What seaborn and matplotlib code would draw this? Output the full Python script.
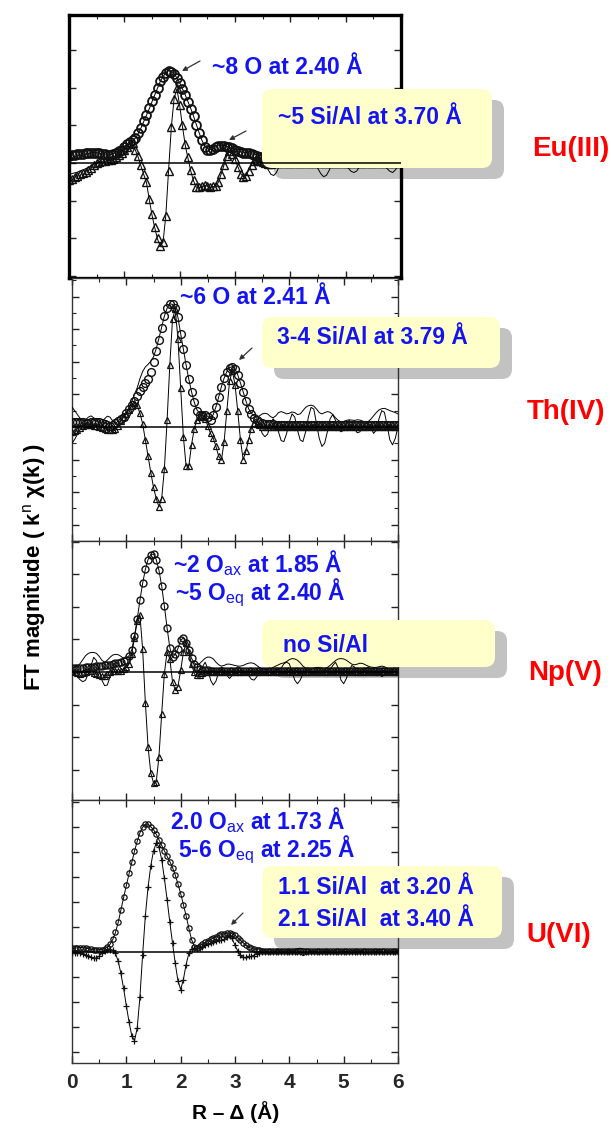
import numpy as np
import pandas as pd
import matplotlib
matplotlib.use("Agg")
import matplotlib.pyplot as plt
from matplotlib.patches import FancyBboxPatch
from matplotlib.transforms import IdentityTransform
from matplotlib.ticker import MultipleLocator
import seaborn as sns

# ---------------------------------------------------------------- data
# R - Delta grid (Angstrom), 0.05 step
R = np.round(np.arange(0, 121) * 0.05, 2)

# Eu(III): |FT| and Im(FT), experiment (lines) and fit (symbols)
eu_mag_fit = [
    0.20, 0.21, 0.22, 0.23, 0.24, 0.25, 0.26, 0.26, 0.27, 0.28, 0.28, 0.27, 0.25, 0.23, 0.21, 0.22, 0.25, 0.28, 0.31, 0.36,
    0.43, 0.50, 0.56, 0.61, 0.67, 0.79, 0.94, 1.12, 1.28, 1.45, 1.64, 1.82, 2.00, 2.18, 2.29, 2.38, 2.44, 2.43, 2.37, 2.25,
    2.12, 1.96, 1.80, 1.62, 1.44, 1.24, 1.02, 0.80, 0.60, 0.44, 0.36, 0.35, 0.38, 0.42, 0.45, 0.46, 0.46, 0.44, 0.42, 0.39,
    0.35, 0.31, 0.29, 0.28, 0.27, 0.26, 0.24, 0.22, 0.20, 0.17, 0.14, 0.11, 0.08, 0.06, 0.05, 0.04, 0.04, 0.03, 0.03, 0.03,
    0.03, 0.03, 0.03, 0.03, 0.03, 0.03, 0.03, 0.03, 0.03, 0.03, 0.03, 0.03, 0.03, 0.03, 0.03, 0.03, 0.03, 0.03, 0.03, 0.03,
    0.03, 0.03, 0.03, 0.03, 0.03, 0.02, 0.02, 0.02, 0.02, 0.02, 0.02, 0.02, 0.02, 0.02, 0.02, 0.02, 0.02, 0.02, 0.02, 0.02,
    0.02]
eu_im_fit = [
    -0.45, -0.42, -0.38, -0.34, -0.30, -0.26, -0.23, -0.18, -0.12, -0.06, -0.01, 0.03, 0.05, 0.06, 0.07, 0.08, 0.11, 0.16, 0.21, 0.27,
    0.35, 0.43, 0.50, 0.52, 0.35, 0.18, -0.06, -0.28, -0.50, -0.95, -1.36, -1.70, -2.00, -2.20, -2.10, -1.40, -0.20, 0.95, 1.70, 1.98,
    1.55, 1.00, 0.50, 0.15, -0.19, -0.45, -0.63, -0.64, -0.61, -0.59, -0.60, -0.63, -0.62, -0.60, -0.50, -0.28, -0.05, 0.20, 0.32, 0.25,
    0.10, -0.10, -0.28, -0.37, -0.33, -0.20, -0.05, 0.06, 0.08, 0.06, 0.03, 0.00, -0.02, -0.02, -0.01, 0.00, 0.00, 0.00, 0.00, 0.00,
    0.00, 0.00, 0.00, 0.00, 0.00, 0.00, 0.00, 0.00, 0.00, 0.00, 0.00, 0.00, 0.00, 0.00, 0.00, 0.00, 0.00, 0.00, 0.00, 0.00,
    0.00, 0.00, 0.00, 0.00, 0.00, 0.00, 0.00, 0.00, 0.00, 0.00, 0.00, 0.00, 0.00, 0.00, 0.00, 0.00, 0.00, 0.00, 0.00, 0.00,
    0.00]
eu_mag_exp = [
    0.10, 0.13, 0.16, 0.19, 0.21, 0.22, 0.23, 0.25, 0.27, 0.28, 0.28, 0.26, 0.24, 0.22, 0.21, 0.22, 0.25, 0.29, 0.32, 0.37,
    0.44, 0.51, 0.57, 0.61, 0.66, 0.78, 0.93, 1.10, 1.27, 1.44, 1.63, 1.81, 1.99, 2.17, 2.30, 2.39, 2.45, 2.44, 2.37, 2.26,
    2.13, 1.97, 1.81, 1.63, 1.45, 1.25, 1.03, 0.81, 0.61, 0.46, 0.38, 0.36, 0.39, 0.43, 0.46, 0.47, 0.47, 0.45, 0.43, 0.40,
    0.36, 0.32, 0.30, 0.29, 0.28, 0.27, 0.25, 0.23, 0.22, 0.21, 0.20, 0.22, 0.24, 0.31, 0.33, 0.28, 0.22, 0.20, 0.21, 0.20,
    0.16, 0.10, 0.07, 0.10, 0.15, 0.18, 0.19, 0.17, 0.15, 0.18, 0.24, 0.30, 0.36, 0.34, 0.27, 0.20, 0.17, 0.16, 0.15, 0.14,
    0.16, 0.20, 0.23, 0.25, 0.23, 0.18, 0.14, 0.14, 0.15, 0.12, 0.08, 0.05, 0.05, 0.08, 0.13, 0.18, 0.22, 0.25, 0.21, 0.14,
    0.08]
eu_im_exp = [
    -0.30, -0.28, -0.26, -0.24, -0.21, -0.18, -0.15, -0.11, -0.07, -0.03, 0.01, 0.04, 0.05, 0.05, 0.06, 0.08, 0.12, 0.17, 0.22, 0.28,
    0.36, 0.44, 0.51, 0.52, 0.34, 0.16, -0.08, -0.30, -0.52, -0.96, -1.38, -1.72, -2.02, -2.20, -2.10, -1.38, -0.18, 0.97, 1.72, 1.97,
    1.53, 0.98, 0.48, 0.13, -0.21, -0.47, -0.64, -0.65, -0.62, -0.60, -0.61, -0.64, -0.63, -0.61, -0.51, -0.29, -0.06, 0.19, 0.33, 0.26,
    0.11, -0.09, -0.27, -0.36, -0.32, -0.19, -0.04, 0.08, 0.12, 0.10, 0.05, -0.05, -0.18, -0.30, -0.33, -0.25, -0.08, 0.10, 0.20, 0.18,
    0.08, -0.02, -0.06, -0.02, 0.08, 0.15, 0.18, 0.14, 0.06, -0.04, -0.15, -0.28, -0.36, -0.33, -0.20, -0.03, 0.10, 0.16, 0.14, 0.06,
    -0.04, -0.14, -0.22, -0.25, -0.21, -0.10, 0.04, 0.12, 0.14, 0.10, 0.04, -0.02, -0.04, -0.02, -0.06, -0.15, -0.22, -0.25, -0.18, -0.06,
    0.04]

# Th(IV)
th_mag_fit = [
    0.15, 0.16, 0.16, 0.15, 0.14, 0.13, 0.13, 0.14, 0.15, 0.15, 0.14, 0.12, 0.09, 0.06, 0.04, 0.06, 0.11, 0.17, 0.24, 0.31,
    0.42, 0.54, 0.66, 0.80, 0.96, 1.10, 1.22, 1.34, 1.48, 1.70, 1.98, 2.32, 2.68, 3.05, 3.40, 3.64, 3.78, 3.76, 3.64, 3.36,
    2.86, 2.38, 1.90, 1.46, 1.08, 0.76, 0.50, 0.38, 0.37, 0.36, 0.30, 0.22, 0.38, 0.62, 0.92, 1.24, 1.50, 1.70, 1.82, 1.85,
    1.78, 1.60, 1.35, 1.08, 0.80, 0.56, 0.40, 0.28, 0.20, 0.15, 0.12, 0.10, 0.09, 0.08, 0.08, 0.07, 0.07, 0.07, 0.06, 0.06,
    0.06, 0.06, 0.06, 0.06, 0.06, 0.06, 0.06, 0.06, 0.05, 0.05, 0.05, 0.05, 0.05, 0.05, 0.05, 0.05, 0.05, 0.05, 0.05, 0.05,
    0.05, 0.05, 0.05, 0.05, 0.05, 0.05, 0.05, 0.05, 0.05, 0.05, 0.05, 0.05, 0.05, 0.05, 0.05, 0.05, 0.05, 0.05, 0.05, 0.05,
    0.05]
th_im_fit = [
    -0.15, -0.12, -0.08, -0.03, 0.02, 0.05, 0.06, 0.05, 0.04, 0.02, 0.00, -0.03, -0.06, -0.08, -0.09, -0.09, -0.06, 0.04, 0.18, 0.30,
    0.41, 0.53, 0.65, 0.72, 0.66, 0.42, 0.10, -0.40, -0.90, -1.40, -1.85, -2.20, -2.45, -2.20, -1.30, 0.20, 1.90, 3.30, 3.62, 2.70,
    1.20, -0.30, -1.20, -1.20, -0.55, -0.05, 0.22, 0.30, 0.32, 0.25, 0.02, -0.20, -0.35, -0.60, -0.90, -1.02, -0.45, 0.50, 1.40, 1.72,
    1.30, 0.50, -0.40, -1.00, -0.75, -0.40, -0.05, 0.12, 0.10, 0.05, 0.00, 0.00, -0.01, -0.01, 0.00, 0.00, 0.00, 0.00, 0.00, 0.00,
    0.00, 0.00, 0.00, 0.00, 0.00, 0.00, 0.00, 0.00, 0.00, 0.00, 0.00, 0.00, 0.00, 0.00, 0.00, 0.00, 0.00, 0.00, 0.00, 0.00,
    0.00, 0.00, 0.00, 0.00, 0.00, 0.00, 0.00, 0.00, 0.00, 0.00, 0.00, 0.00, 0.00, 0.00, 0.00, 0.00, 0.00, 0.00, 0.00, 0.00,
    0.00]
th_mag_exp = [
    0.61, 0.50, 0.38, 0.26, 0.18, 0.22, 0.30, 0.34, 0.28, 0.18, 0.12, 0.15, 0.25, 0.33, 0.30, 0.18, 0.10, 0.18, 0.28, 0.36,
    0.46, 0.60, 0.78, 1.00, 1.20, 1.48, 1.70, 1.84, 1.92, 2.02, 2.15, 2.40, 2.72, 3.06, 3.40, 3.64, 3.78, 3.76, 3.64, 3.36,
    2.86, 2.38, 1.90, 1.46, 1.08, 0.76, 0.52, 0.42, 0.42, 0.40, 0.32, 0.24, 0.38, 0.62, 0.92, 1.24, 1.50, 1.70, 1.82, 1.85,
    1.78, 1.60, 1.35, 1.08, 0.80, 0.56, 0.42, 0.34, 0.30, 0.34, 0.40, 0.42, 0.40, 0.32, 0.28, 0.34, 0.44, 0.47, 0.44, 0.40,
    0.42, 0.46, 0.44, 0.38, 0.40, 0.50, 0.60, 0.65, 0.67, 0.64, 0.55, 0.44, 0.40, 0.44, 0.47, 0.45, 0.38, 0.28, 0.20, 0.16,
    0.17, 0.20, 0.22, 0.21, 0.20, 0.22, 0.21, 0.18, 0.14, 0.16, 0.24, 0.34, 0.44, 0.52, 0.56, 0.57, 0.54, 0.50, 0.47, 0.44,
    0.40]
th_im_exp = [
    -0.50, -0.38, -0.22, -0.08, 0.05, 0.12, 0.10, 0.02, -0.06, -0.10, -0.06, 0.04, 0.12, 0.10, 0.00, -0.12, -0.10, 0.05, 0.20, 0.30,
    0.41, 0.53, 0.65, 0.72, 0.66, 0.42, 0.10, -0.40, -0.90, -1.40, -1.85, -2.20, -2.45, -2.20, -1.30, 0.20, 1.90, 3.30, 3.62, 2.70,
    1.20, -0.30, -1.20, -1.20, -0.55, -0.05, 0.22, 0.32, 0.36, 0.28, 0.02, -0.20, -0.35, -0.60, -0.90, -1.02, -0.45, 0.50, 1.40, 1.72,
    1.30, 0.50, -0.40, -1.00, -0.75, -0.40, -0.05, 0.20, 0.25, 0.05, -0.20, -0.30, -0.22, 0.05, 0.25, 0.15, -0.15, -0.42, -0.45, -0.20,
    0.15, 0.40, 0.30, -0.10, -0.40, -0.45, -0.15, 0.30, 0.60, 0.55, 0.10, -0.35, -0.60, -0.50, -0.15, 0.25, 0.38, 0.20, -0.05, -0.15,
    -0.10, 0.10, 0.20, 0.12, -0.05, -0.18, -0.15, 0.02, 0.12, 0.10, 0.00, -0.20, -0.10, 0.25, 0.50, 0.45, 0.05, -0.40, -0.55, -0.35,
    0.00]

# Np(V)
np_mag_fit = [
    0.13, 0.13, 0.12, 0.12, 0.13, 0.14, 0.14, 0.15, 0.16, 0.17, 0.18, 0.19, 0.20, 0.21, 0.22, 0.24, 0.26, 0.28, 0.31, 0.34,
    0.38, 0.48, 0.68, 1.10, 1.62, 2.20, 2.72, 3.15, 3.45, 3.60, 3.62, 3.45, 3.12, 2.65, 2.02, 1.35, 0.75, 0.45, 0.55, 0.72,
    0.98, 1.04, 0.90, 0.66, 0.42, 0.25, 0.14, 0.08, 0.06, 0.05, 0.05, 0.04, 0.04, 0.04, 0.04, 0.04, 0.04, 0.04, 0.04, 0.04,
    0.04, 0.04, 0.04, 0.04, 0.04, 0.04, 0.04, 0.04, 0.04, 0.04, 0.04, 0.04, 0.04, 0.04, 0.04, 0.04, 0.04, 0.04, 0.04, 0.04,
    0.04, 0.04, 0.04, 0.04, 0.04, 0.04, 0.04, 0.04, 0.04, 0.04, 0.03, 0.03, 0.03, 0.03, 0.03, 0.03, 0.03, 0.03, 0.03, 0.03,
    0.03, 0.03, 0.03, 0.03, 0.03, 0.03, 0.03, 0.03, 0.03, 0.03, 0.03, 0.03, 0.03, 0.03, 0.03, 0.03, 0.03, 0.03, 0.03, 0.03,
    0.03]
np_im_fit = [
    0.02, 0.00, -0.03, -0.05, -0.03, 0.00, 0.03, 0.02, -0.02, -0.06, -0.10, -0.12, -0.11, -0.06, 0.00, 0.03, 0.04, 0.03, 0.04, 0.08,
    0.14, 0.24, 0.55, 1.05, 1.55, 1.75, 0.70, -0.94, -2.30, -3.10, -3.40, -3.38, -2.60, -1.30, -0.05, 0.62, 0.40, -0.30, -0.55, -0.45,
    0.05, 0.60, 0.88, 0.60, 0.25, 0.00, -0.08, -0.08, -0.04, 0.00, 0.00, 0.00, 0.00, 0.00, 0.00, 0.00, 0.00, 0.00, 0.00, 0.00,
    0.00, 0.00, 0.00, 0.00, 0.00, 0.00, 0.00, 0.00, 0.00, 0.00, 0.00, 0.00, 0.00, 0.00, 0.00, 0.00, 0.00, 0.00, 0.00, 0.00,
    0.00, 0.00, 0.00, 0.00, 0.00, 0.00, 0.00, 0.00, 0.00, 0.00, 0.00, 0.00, 0.00, 0.00, 0.00, 0.00, 0.00, 0.00, 0.00, 0.00,
    0.00, 0.00, 0.00, 0.00, 0.00, 0.00, 0.00, 0.00, 0.00, 0.00, 0.00, 0.00, 0.00, 0.00, 0.00, 0.00, 0.00, 0.00, 0.00, 0.00,
    0.00]
np_mag_exp = [
    0.12, 0.14, 0.18, 0.26, 0.38, 0.50, 0.57, 0.60, 0.60, 0.57, 0.48, 0.36, 0.30, 0.36, 0.45, 0.52, 0.54, 0.53, 0.48, 0.42,
    0.42, 0.50, 0.68, 1.10, 1.62, 2.20, 2.72, 3.15, 3.45, 3.60, 3.62, 3.45, 3.12, 2.65, 2.02, 1.35, 0.75, 0.45, 0.55, 0.72,
    0.98, 1.04, 0.90, 0.66, 0.42, 0.28, 0.22, 0.26, 0.34, 0.42, 0.46, 0.45, 0.40, 0.30, 0.22, 0.18, 0.20, 0.24, 0.24, 0.22,
    0.20, 0.18, 0.18, 0.20, 0.24, 0.27, 0.28, 0.26, 0.20, 0.14, 0.10, 0.08, 0.08, 0.10, 0.14, 0.18, 0.22, 0.26, 0.28, 0.32,
    0.38, 0.41, 0.40, 0.36, 0.28, 0.18, 0.12, 0.10, 0.10, 0.12, 0.14, 0.14, 0.12, 0.10, 0.14, 0.20, 0.28, 0.35, 0.40, 0.41,
    0.40, 0.36, 0.30, 0.24, 0.22, 0.24, 0.27, 0.26, 0.22, 0.18, 0.15, 0.14, 0.14, 0.16, 0.18, 0.16, 0.12, 0.08, 0.06, 0.05,
    0.05]
np_im_exp = [
    0.05, -0.05, -0.15, -0.24, -0.30, -0.25, -0.05, 0.20, 0.45, 0.35, 0.05, -0.25, -0.42, -0.40, -0.15, 0.15, 0.30, 0.25, 0.10, 0.05,
    0.14, 0.24, 0.55, 1.05, 1.55, 1.75, 0.70, -0.94, -2.30, -3.10, -3.40, -3.38, -2.60, -1.30, -0.05, 0.62, 0.40, -0.30, -0.55, -0.45,
    0.05, 0.60, 0.88, 0.60, 0.25, -0.05, -0.15, -0.05, 0.15, 0.30, 0.10, -0.25, -0.40, -0.28, 0.00, 0.15, 0.10, -0.10, -0.20, -0.10,
    0.08, 0.16, 0.12, 0.02, -0.10, -0.10, -0.22, -0.25, -0.15, 0.02, 0.10, 0.08, 0.02, -0.03, -0.02, 0.05, 0.10, 0.12, 0.25, 0.30,
    0.25, 0.00, -0.25, -0.36, -0.25, -0.05, 0.05, 0.06, 0.02, -0.04, -0.06, -0.03, 0.03, 0.06, 0.05, 0.08, 0.20, 0.30, 0.12, -0.25,
    -0.36, -0.20, 0.05, 0.20, 0.15, 0.00, -0.12, -0.05, 0.10, 0.15, 0.05, -0.05, -0.05, -0.05, -0.14, -0.10, 0.00, 0.04, 0.03, 0.02,
    0.02]

# U(VI)
u_mag_fit = [
    0.16, 0.16, 0.17, 0.17, 0.17, 0.16, 0.14, 0.11, 0.09, 0.08, 0.08, 0.09, 0.12, 0.20, 0.32, 0.52, 0.80, 1.20, 1.70, 2.20,
    2.68, 3.15, 3.60, 4.05, 4.45, 4.78, 5.00, 5.12, 5.12, 5.02, 4.90, 4.72, 4.50, 4.28, 4.05, 3.83, 3.62, 3.38, 3.08, 2.72,
    2.34, 1.90, 1.45, 0.95, 0.48, 0.20, 0.18, 0.26, 0.33, 0.39, 0.45, 0.51, 0.57, 0.62, 0.67, 0.71, 0.74, 0.76, 0.76, 0.74,
    0.68, 0.58, 0.48, 0.38, 0.28, 0.20, 0.15, 0.12, 0.10, 0.08, 0.06, 0.05, 0.05, 0.04, 0.04, 0.04, 0.04, 0.04, 0.04, 0.04,
    0.04, 0.04, 0.04, 0.04, 0.04, 0.04, 0.04, 0.04, 0.04, 0.04, 0.04, 0.04, 0.04, 0.04, 0.04, 0.04, 0.04, 0.04, 0.04, 0.04,
    0.04, 0.04, 0.04, 0.04, 0.04, 0.04, 0.04, 0.04, 0.04, 0.04, 0.04, 0.04, 0.04, 0.04, 0.04, 0.04, 0.04, 0.04, 0.04, 0.04,
    0.04]
u_im_fit = [
    -0.02, -0.02, -0.03, -0.04, -0.06, -0.10, -0.15, -0.20, -0.24, -0.22, -0.15, -0.05, 0.05, 0.09, 0.10, 0.08, -0.05, -0.35, -0.85, -1.45,
    -2.15, -2.80, -3.35, -3.55, -3.05, -1.80, -0.10, 1.45, 2.60, 3.45, 4.05, 4.35, 4.20, 3.70, 2.95, 2.10, 1.20, 0.35, -0.45, -1.15,
    -1.50, -1.10, -0.50, -0.05, 0.12, 0.15, 0.16, 0.18, 0.22, 0.27, 0.32, 0.36, 0.40, 0.44, 0.47, 0.50, 0.54, 0.60, 0.64, 0.55,
    0.30, 0.05, -0.12, -0.18, -0.18, -0.17, -0.16, -0.14, -0.08, -0.03, 0.00, 0.00, 0.00, 0.00, 0.00, 0.00, 0.00, 0.00, 0.00, 0.00,
    0.00, 0.00, 0.00, 0.00, 0.00, 0.00, 0.00, 0.00, 0.00, 0.00, 0.00, 0.00, 0.00, 0.00, 0.00, 0.00, 0.00, 0.00, 0.00, 0.00,
    0.00, 0.00, 0.00, 0.00, 0.00, 0.00, 0.00, 0.00, 0.00, 0.00, 0.00, 0.00, 0.00, 0.00, 0.00, 0.00, 0.00, 0.00, 0.00, 0.00,
    0.00]
u_mag_exp = [
    0.14, 0.15, 0.17, 0.18, 0.18, 0.16, 0.13, 0.10, 0.08, 0.08, 0.09, 0.10, 0.13, 0.20, 0.31, 0.50, 0.78, 1.18, 1.68, 2.18,
    2.66, 3.13, 3.58, 4.03, 4.43, 4.77, 4.99, 5.11, 5.11, 5.01, 4.89, 4.71, 4.49, 4.27, 4.05, 3.83, 3.62, 3.38, 3.08, 2.72,
    2.34, 1.90, 1.45, 0.96, 0.50, 0.24, 0.20, 0.25, 0.32, 0.38, 0.44, 0.50, 0.56, 0.61, 0.66, 0.70, 0.73, 0.75, 0.75, 0.73,
    0.67, 0.57, 0.47, 0.37, 0.27, 0.20, 0.15, 0.12, 0.11, 0.12, 0.12, 0.10, 0.08, 0.07, 0.08, 0.10, 0.11, 0.10, 0.08, 0.06,
    0.06, 0.08, 0.11, 0.14, 0.15, 0.13, 0.10, 0.07, 0.05, 0.05, 0.06, 0.08, 0.08, 0.07, 0.05, 0.04, 0.05, 0.07, 0.08, 0.07,
    0.05, 0.04, 0.05, 0.06, 0.06, 0.05, 0.05, 0.06, 0.08, 0.09, 0.08, 0.07, 0.08, 0.10, 0.10, 0.08, 0.06, 0.05, 0.05, 0.05,
    0.05]
u_im_exp = [
    -0.06, -0.05, -0.03, -0.02, -0.05, -0.10, -0.16, -0.22, -0.26, -0.24, -0.16, -0.05, 0.06, 0.10, 0.10, 0.07, -0.06, -0.36, -0.86, -1.46,
    -2.15, -2.80, -3.35, -3.55, -3.05, -1.80, -0.10, 1.45, 2.60, 3.45, 4.05, 4.35, 4.20, 3.70, 2.95, 2.10, 1.20, 0.35, -0.45, -1.15,
    -1.50, -1.10, -0.50, -0.06, 0.10, 0.12, 0.12, 0.14, 0.18, 0.23, 0.28, 0.32, 0.36, 0.40, 0.43, 0.46, 0.50, 0.56, 0.60, 0.52,
    0.28, 0.04, -0.14, -0.22, -0.24, -0.22, -0.18, -0.12, -0.04, 0.04, 0.08, 0.05, -0.02, -0.06, -0.04, 0.03, 0.08, 0.06, 0.00, -0.04,
    -0.04, 0.02, 0.08, 0.06, -0.06, -0.15, -0.10, 0.00, 0.05, 0.03, -0.02, -0.05, -0.03, 0.02, 0.05, 0.03, -0.03, -0.07, -0.05, 0.00,
    0.03, 0.02, -0.02, -0.04, -0.02, 0.02, 0.04, 0.02, -0.04, -0.08, -0.06, 0.00, 0.04, 0.06, 0.03, -0.04, -0.08, -0.06, -0.02, 0.02,
    0.02]

ions = ["Eu(III)", "Th(IV)", "Np(V)", "U(VI)"]
x_ticks = [0, 1, 2, 3, 4, 5, 6]
x_label = "R \u2013 \u0394 (\u00c5)"
y_label = "FT magnitude ( k$^{\\mathrm{n}}$ \u03c7(k) )"

shell_notes = [
    ["~8 O at 2.40 \u00c5"],
    ["~6 O at 2.41 \u00c5"],
    ["~2 O$_{\\mathrm{ax}}$ at 1.85 \u00c5", "~5 O$_{\\mathrm{eq}}$ at 2.40 \u00c5"],
    ["2.0 O$_{\\mathrm{ax}}$ at 1.73 \u00c5", "5-6 O$_{\\mathrm{eq}}$ at 2.25 \u00c5"],
]
box_notes = [
    ["~5 Si/Al at 3.70 \u00c5"],
    ["3-4 Si/Al at 3.79 \u00c5"],
    ["no Si/Al"],
    ["1.1 Si/Al  at 3.20 \u00c5", "2.1 Si/Al  at 3.40 \u00c5"],
]

series = [
    (eu_mag_exp, eu_im_exp, eu_mag_fit, eu_im_fit),
    (th_mag_exp, th_im_exp, th_mag_fit, th_im_fit),
    (np_mag_exp, np_im_exp, np_mag_fit, np_im_fit),
    (u_mag_exp, u_im_exp, u_mag_fit, u_im_fit),
]
for s in series:
    for arr in s:
        assert len(arr) == len(R)

# ---------------------------------------------------------------- layout / style
W, H = 611, 1137
sns.set_theme(style="ticks")
plt.rcParams["font.family"] = ["Liberation Sans", "DejaVu Sans"]
plt.rcParams["mathtext.fontset"] = "custom"
plt.rcParams["mathtext.rm"] = "Liberation Sans"
plt.rcParams["mathtext.it"] = "Liberation Sans:italic"
plt.rcParams["mathtext.bf"] = "Liberation Sans:bold"

BLUE = "#1414F0"
RED = "#FF0000"
NOTE_SIZE = 16.5

# frame (left, right, top, bottom) in pixels from the top-left corner
frames = [(69, 401, 15, 278), (72, 398, 278, 541), (72, 398, 541, 800), (72, 398, 800, 1063)]
ylims = [(-3.05, 3.93), (-3.5, 4.57), (-3.93, 4.02), (-4.44, 6.08)]
spine_w = [2.4, 1.0, 1.0, 1.0]
y_minor = [None, 0.5, None, None]
mag_style = [dict(marker="o", markersize=6.4, markeredgewidth=1.3),
             dict(marker="o", markersize=5.6, markeredgewidth=1.0),
             dict(marker="o", markersize=5.0, markeredgewidth=1.0),
             dict(marker="o", markersize=3.8, markeredgewidth=0.9)]
im_style = [dict(marker="^", markersize=5.2, markeredgewidth=1.0),
            dict(marker="^", markersize=4.6, markeredgewidth=0.9),
            dict(marker="^", markersize=4.6, markeredgewidth=0.9),
            dict(marker="+", markersize=4.0, markeredgewidth=0.9)]
curve_z = [2.0, 2.7, 2.7, 2.7]

shell_pos = [[(212, 67)], [(180, 298)], [(173, 563), (175, 593)], [(170, 820), (178, 850)]]
box_rect = [(262, 89, 492, 168), (262, 317, 500, 368), (262, 620, 495, 667), (262, 866, 502, 938)]
box_text_pos = [[(278, 117)], [(277, 337)], [(283, 646)], [(278, 888), (278, 920)]]
ion_pos = [(532, 149), (527, 412), (528, 673), (526, 935)]
arrows = [[((200, 61), (182, 71)), ((246, 131), (229, 140))],
          [((252, 348), (239, 360))],
          [],
          [((243, 913), (231, 925))]]


def ff(px, py):
    return px / W, 1 - py / H


fig = plt.figure(figsize=(W / 100, H / 100), dpi=100, facecolor="white")

for i in range(4):
    l, r, t, b = frames[i]
    ax = fig.add_axes([l / W, 1 - b / H, (r - l) / W, (b - t) / H])
    ax.set_facecolor("white")
    df = pd.DataFrame({"R": R,
                       "mag_exp": series[i][0], "im_exp": series[i][1],
                       "mag_fit": series[i][2], "im_fit": series[i][3]})
    z = curve_z[i]
    for col in ["mag_exp", "im_exp"]:
        sns.lineplot(data=df, x="R", y=col, ax=ax, color="black", linewidth=0.7,
                     estimator=None, sort=False, zorder=z)
    for col, st in [("im_fit", im_style[i]), ("mag_fit", mag_style[i])]:
        sns.lineplot(data=df, x="R", y=col, ax=ax, color="black", linewidth=0,
                     markerfacecolor="none", markeredgecolor="#111111",
                     estimator=None, sort=False, zorder=z + 0.05, **st)
    ax.axhline(0, color="black", lw=1.1, zorder=2.8)
    ax.set_xlim(0, 6)
    ax.set_ylim(*ylims[i])
    ax.set(xlabel="", ylabel="")
    ax.set_xticks(x_ticks)
    ax.xaxis.set_minor_locator(MultipleLocator(0.5))
    ax.yaxis.set_major_locator(MultipleLocator(1))
    if y_minor[i]:
        ax.yaxis.set_minor_locator(MultipleLocator(y_minor[i]))
    ax.tick_params(which="both", direction="in", top=True, right=True,
                   labelleft=False, labelbottom=(i == 3), color="#222222")
    ax.tick_params(which="major", length=5, width=1.0)
    ax.tick_params(which="minor", length=3, width=0.8)
    for sp in ax.spines.values():
        sp.set_linewidth(spine_w[i])
        sp.set_color("black" if i == 0 else "#333333")
    if i == 3:
        ax.tick_params(axis="x", labelsize=15, pad=7)
        for lbl in ax.get_xticklabels():
            lbl.set_fontweight("bold")

    # callout box with drop shadow
    bl, bt, br, bb = box_rect[i]
    shadow = FancyBboxPatch((bl + 12, H - bb - 11), br - bl, bb - bt,
                            boxstyle="round,pad=0,rounding_size=10",
                            transform=IdentityTransform(), clip_on=False,
                            facecolor="#C2C2C2", edgecolor="none", zorder=1.5)
    box = FancyBboxPatch((bl, H - bb), br - bl, bb - bt,
                         boxstyle="round,pad=0,rounding_size=10",
                         transform=IdentityTransform(), clip_on=False,
                         facecolor="#FFFFCC", edgecolor="none", zorder=2.6)
    ax.add_artist(shadow)
    ax.add_artist(box)

    for (px, py), txt in zip(shell_pos[i], shell_notes[i]):
        fig.text(*ff(px, py), txt, color=BLUE, fontsize=NOTE_SIZE, fontweight="bold",
                 ha="left", va="center")
    for (px, py), txt in zip(box_text_pos[i], box_notes[i]):
        fig.text(*ff(px, py), txt, color=BLUE, fontsize=NOTE_SIZE, fontweight="bold",
                 ha="left", va="center")
    fig.text(*ff(*ion_pos[i]), ions[i], color=RED, fontsize=20, fontweight="bold",
             ha="left", va="center")
    for (p0, p1) in arrows[i]:
        ax.annotate("", xy=ff(*p1), xytext=ff(*p0), xycoords="figure fraction",
                    textcoords="figure fraction",
                    arrowprops=dict(arrowstyle="-|>", color="#333333", lw=0.9,
                                    mutation_scale=7, shrinkA=0, shrinkB=0))

fig.text(*ff(35, 567), y_label, rotation=90, fontsize=16, fontweight="bold",
         ha="center", va="center", color="black")
fig.text(*ff(236, 1112), x_label, fontsize=15, fontweight="bold",
         ha="center", va="center", color="black")

fig.savefig("out.png", dpi=100, facecolor="white")
